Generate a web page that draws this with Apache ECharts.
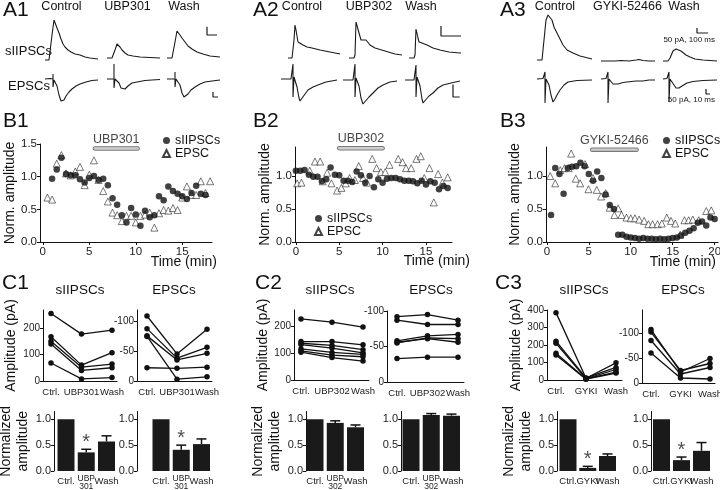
<!DOCTYPE html>
<html><head><meta charset="utf-8">
<script src="https://cdn.jsdelivr.net/npm/echarts@6/dist/echarts.min.js"></script>
<style>html,body{margin:0;padding:0;background:#fff}#c{width:720px;height:490px}</style>
</head><body><div id="c"></div>
<script>
// ---------------- DATA ----------------
// A: example traces, [time (ms), current (pA)]
const a1IpscCtrl = [[0,0],[40,0],[50,6],[70,150],[90,240],[100,228],[120,192],[140,162],[160,126],[180,96],[200,78],[230,60],[260,48],[300,36],[350,30],[400,18],[450,12],[530,6]];
const a1IpscDrug = [[0,0],[50,0],[60,6],[80,48],[100,84],[110,78],[130,66],[150,48],[180,30],[210,18],[260,12],[330,6],[430,3],[530,0]];
const a1IpscWash = [[0,0],[50,0],[60,6],[80,96],[100,162],[110,156],[130,138],[150,120],[180,96],[210,72],[250,54],[300,36],[360,24],[430,12],[530,6]];
const a1EpscCtrl = [[0,0],[10,5],[16,0],[16,50],[16,-80],[18,-10],[20,-10],[24,-70],[28,-160],[32,-220],[34,-230],[38,-210],[42,-170],[48,-130],[54,-100],[62,-70],[70,-50],[82,-30],[94,-15],[106,-10]];
const a1EpscDrug = [[0,0],[14,0],[14,150],[14,-90],[16,0],[20,-10],[24,-40],[28,-90],[32,-110],[36,-100],[42,-70],[50,-40],[60,-30],[76,-15],[90,-10],[106,-5]];
const a1EpscWash = [[0,0],[16,0],[16,70],[16,-80],[18,0],[22,-10],[26,-60],[30,-140],[34,-180],[38,-170],[42,-150],[48,-110],[56,-80],[66,-50],[76,-30],[90,-20],[106,-10]];
const a2IpscCtrl = [[0,0],[20,0],[25,10],[30,90],[35,165],[40,140],[50,80],[60,70],[75,65],[95,55],[120,50],[140,45],[160,40],[185,35],[210,30],[235,25],[260,20]];
const a2IpscDrug = [[0,0],[25,0],[30,15],[35,180],[50,125],[60,90],[70,100],[85,90],[105,65],[130,50],[180,35],[230,20],[265,15]];
const a2IpscWash = [[0,0],[25,0],[30,15],[35,145],[45,100],[50,80],[65,75],[90,65],[120,50],[155,40],[200,30],[255,25],[260,25]];
const a2EpscCtrl = [[0,0],[15,0],[18,4],[18,60],[18,-72],[19.5,8],[21,4],[24,-32],[27,-76],[28.5,-88],[31.5,-80],[36,-60],[40.5,-44],[48,-32],[55.5,-24],[67.5,-12],[84,-4]];
const a2EpscDrug = [[0,0],[15,0],[18,4],[18,64],[18,-68],[19.5,8],[21,4],[24,-24],[27,-72],[30,-96],[33,-88],[39,-68],[45,-52],[52.5,-32],[60,-20],[70.5,-8],[81,-4]];
const a2EpscWash = [[0,0],[13.5,0],[16.5,4],[16.5,60],[16.5,-68],[18,12],[19.5,8],[22.5,-24],[25.5,-76],[27,-92],[30,-84],[36,-64],[42,-52],[49.5,-32],[57,-20],[69,-12],[82.5,-4]];
const a3IpscCtrl = [[0,0],[45,0],[54,20],[72,300],[81,400],[99,450],[117,430],[135,400],[153,330],[180,270],[207,210],[234,150],[270,100],[324,70],[387,40],[495,10]];
const a3IpscDrug = [[0,0],[72,0],[90,10],[126,0],[180,5],[252,0],[315,10],[342,15],[378,5],[432,0],[486,0]];
const a3IpscWash = [[0,0],[45,0],[63,30],[90,100],[108,110],[117,120],[135,110],[162,100],[180,80],[207,60],[243,40],[288,20],[360,10],[486,0]];
const a3EpscCtrl = [[0,0],[15,5],[20,0],[20,70],[20,-240],[22.5,0],[25,-10],[30,-60],[35,-160],[40,-230],[45,-200],[50,-160],[57.5,-110],[67.5,-60],[77.5,-30],[100,-15],[137.5,-10]];
const a3EpscDrug = [[0,0],[12.5,5],[17.5,0],[17.5,70],[17.5,-240],[20,0],[25,-20],[30,-50],[35,-60],[42.5,-50],[55,-35],[65,-30],[87.5,-20],[105,-20],[120,-10],[135,-10]];
const a3EpscWash = [[0,0],[10,5],[15,0],[15,70],[15,-230],[17.5,0],[22.5,-20],[27.5,-60],[32.5,-90],[35,-100],[40,-90],[47.5,-70],[60,-40],[75,-25],[100,-15],[135,-10]];
const condNames = [['Control','UBP301','Wash'],['Control','UBP302','Wash'],['Control','GYKI-52466','Wash']];
const scaleIpsc = [50,100];   // pA, ms
const scaleEpsc = [50,10];    // pA, ms

// B: time courses
const b1IpscT = [1,1.5,2,2.5,3,3.5,4,4.5,5,5.5,6,6.5,7,7.5,8,8.5,9,9.5,10,10.5,11,11.5,12,12.5,13,13.5,14,14.5,15,15.5,16,16.5,17,17.5];
const b1Ipsc  = [0.97,1.11,1.29,1.04,1.02,1.02,0.96,0.91,0.98,1.01,0.95,0.97,0.87,0.67,0.57,0.41,0.30,0.52,0.42,0.25,0.48,0.38,0.41,0.70,0.64,0.85,0.78,0.74,0.70,0.66,0.75,0.86,0.74,0.72];
const b1EpscT = [0.5,1,1.5,2,2.5,3,3.5,4,4.5,5,5.5,6,6.5,7,7.5,8,8.5,9,9.5,10,10.5,11,11.5,12,12.5,13,13.5,14,14.5,15,15.5,16,16.5,17,17.5,18];
const b1Epsc  = [0.68,0.65,1.2,1.33,1.05,1.02,1.08,1.15,0.87,1.03,1.25,0.95,0.78,0.62,0.45,0.41,0.32,0.40,0.40,0.30,0.40,0.42,0.45,0.22,0.44,0.49,0.48,0.52,0.49,0.68,0.85,0.72,0.72,0.93,0.75,0.93];
const b2IpscT = [0,0.5,1,1.5,2,2.5,3,3.5,4,4.5,5,5.5,6,6.5,7,7.5,8,8.5,9,9.5,10,10.5,11,11.5,12,12.5,13,13.5,14,14.5,15,15.5,16,16.5,17,17.5];
const b2Ipsc  = [1.08,1.08,1.09,1.02,0.99,0.99,0.92,0.95,1.13,1.02,1.01,0.93,0.93,0.91,1.07,1.01,0.90,1.0,0.83,0.95,0.90,0.96,0.97,0.97,0.95,0.93,0.93,0.92,0.89,0.93,0.87,0.92,0.90,0.80,0.85,0.82];
const b2EpscT = [0.15,0.64,1.6,2.2,2.8,3.1,3.6,4.1,4.75,5.25,5.75,6.2,6.8,7.25,7.75,8.2,8.8,9.3,9.8,10.3,10.8,11.8,12.3,12.7,13.3,13.9,14.4,14.8,15.4,15.9,16.4,16.9,17.5];
const b2Epsc  = [0.89,0.90,1.08,1.22,1.22,0.92,1.05,0.89,0.78,0.82,0.89,0.97,0.94,1.15,0.97,0.90,1.26,1.12,1.06,1.06,1.17,1.26,1.21,1.12,1.12,1.26,1.30,0.97,1.12,0.60,1.03,0.90,0.98];
const b3IpscT = [0.5,1,1.5,2,2.5,3,3.5,4,4.5,5,5.5,6,6.5,7,7.5,8,8.5,9,9.5,10,10.5,11,11.5,12,12.5,13,13.5,14,14.5,15,15.5,16,16.5,17,17.5,18,18.5,19,19.5,20];
const b3Ipsc  = [0.41,1.12,1.03,0.73,1.12,1.14,1.15,1.20,1.15,1.03,0.93,1.07,0.97,0.72,0.56,0.50,0.11,0.11,0.08,0.07,0.06,0.05,0.06,0.05,0.05,0.04,0.05,0.04,0.05,0.06,0.07,0.10,0.14,0.17,0.21,0.29,0.31,0.25,0.37,0.35];
const b3EpscT = [0.4,1.0,1.6,2.1,2.6,2.9,3.45,3.97,4.56,4.96,5.5,5.95,6.47,7.02,7.5,8.05,8.5,8.9,9.5,10.0,10.5,11.0,11.6,12.1,12.6,13.2,13.7,14.3,14.8,15.3,15.9,16.4,16.9,17.4,18.1,19.0,19.6];
const b3Epsc  = [1.0,0.89,1.09,1.12,1.12,1.34,0.96,0.89,1.18,0.80,0.97,0.79,0.69,0.74,0.52,0.41,0.51,0.41,0.37,0.36,0.36,0.34,0.32,0.27,0.27,0.27,0.28,0.37,0.32,0.28,0.11,0.33,0.33,0.34,0.33,0.47,0.48];
const drugNames = ['UBP301','UBP302','GYKI-52466'];
const drugWindows = [[5.6,10.2],[5.0,10.0],[5.4,10.7]];   // min

// C: individual cells (pA)
const c1Cats = ['Ctrl.','UBP301','Wash'];
const c2Cats = ['Ctrl.','UBP302','Wash'];
const c3Cats = ['Ctrl.','GYKI','Wash'];
const c1Ipsc = [[255,177,192],[167,60,107],[150,52,64],[140,40,50],[68,8,13]];
const c1Epsc = [[-108,-45,-86],[-87,-38,-56],[-75,-35,-46],[-74,-3,-7],[-22,-21,-23]];
const c2Ipsc = [[226,214,196],[142,142,130],[136,128,112],[131,118,100],[115,102,95],[108,92,86],[103,83,70]];
const c2Epsc = [[-92,-95,-87],[-87,-81,-81],[-58,-65,-67],[-56,-61,-56],[-55,-62,-61],[-33,-35,-35]];
const c3Ipsc = [[385,10,98],[222,12,72],[210,8,60],[153,6,45],[143,5,40]];
const c3Epsc = [[-107,-22,-49],[-102,-25,-39],[-85,-18,-31],[-60,-10,-8]];
// C: normalized means and SEM
const barCats1 = ['Ctrl.','UBP\n301','Wash'];
const barCats2 = ['Ctrl.','UBP\n302','Wash'];
const barCats3 = ['Ctrl.','GYKI','Wash'];
const c1IpscMean = [1.0,0.36,0.57], c1IpscSem = [0,0.06,0.11], c1IpscSig = [0,1,0];
const c1EpscMean = [1.0,0.41,0.52], c1EpscSem = [0,0.09,0.10], c1EpscSig = [0,1,0];
const c2IpscMean = [1.0,0.93,0.845], c2IpscSem = [0,0.04,0.045], c2IpscSig = [0,0,0];
const c2EpscMean = [1.0,1.08,1.07], c2EpscSem = [0,0.03,0.03], c2EpscSig = [0,0,0];
const c3IpscMean = [1.0,0.06,0.29], c3IpscSem = [0,0.03,0.04], c3IpscSig = [0,1,0];
const c3EpscMean = [1.0,0.21,0.39], c3EpscSem = [0,0.06,0.16], c3EpscSig = [0,1,0];

// ---------------- BUILD ----------------
const FONT = "'Liberation Sans', Arial, Helvetica, sans-serif";
const INK = '#111';
const grids=[], xAxes=[], yAxes=[], series=[], legends=[], graphics=[];
function addGrid(g, x, y){
  grids.push(Object.assign({containLabel:false, outerBoundsMode:'none'}, g));
  const i = grids.length-1;
  xAxes.push(Object.assign({gridIndex:i, splitLine:{show:false}}, x));
  yAxes.push(Object.assign({gridIndex:i, splitLine:{show:false}}, y));
  return i;
}
const aLine = {show:true, onZero:false, lineStyle:{color:INK, width:1}};
const aTick = {show:true, length:3, inside:false, lineStyle:{color:INK, width:1}};
const aLab = {color:'#222', fontSize:11.5, fontFamily:FONT, margin:3, hideOverlap:false, showMinLabel:true, showMaxLabel:true};

// A traces
function trace(data, c, s, kind){
  const up = kind==='ipsc'?50:25, down = kind==='ipsc'?10:25;
  const i = addGrid({left:c.left, top:c.base-up, width:c.width, height:up+down},
    {type:'value', show:false, min:0, max:c.width*s.ms},
    {type:'value', show:false, min:-down*s.pa, max:up*s.pa});
  series.push({type:'line', xAxisIndex:i, yAxisIndex:i, data:data, symbol:'none', clip:false, silent:true,
    lineStyle:{color:'#1a1a1a', width:1.1}});
  return i;
}
function scaleBar(i, anchor, size){
  series.push({type:'line', xAxisIndex:i, yAxisIndex:i, symbol:'none', clip:false, silent:true,
    data:[[anchor[0],anchor[1]+size[0]],[anchor[0],anchor[1]],[anchor[0]+size[1],anchor[1]]],
    lineStyle:{color:'#1a1a1a', width:1.2}});
}
const aPanels = [
  {ipsc:[a1IpscCtrl,a1IpscDrug,a1IpscWash], epsc:[a1EpscCtrl,a1EpscDrug,a1EpscWash],
   si:{ms:10,pa:6}, se:{ms:2,pa:10},
   ci:[{left:45,base:60,width:53},{left:107,base:58,width:53},{left:167,base:58,width:53}],
   ce:[{left:45,base:79,width:53},{left:107,base:79,width:53},{left:167,base:79,width:53}],
   bi:[400,138], be:[92,-180]},
  {ipsc:[a2IpscCtrl,a2IpscDrug,a2IpscWash], epsc:[a2EpscCtrl,a2EpscDrug,a2EpscWash],
   si:{ms:5,pa:5}, se:{ms:1.5,pa:4},
   ci:[{left:288,base:58,width:52},{left:349,base:58,width:53},{left:409,base:58,width:52}],
   ce:[{left:281,base:79,width:56},{left:343,base:80,width:54},{left:405,base:80,width:55}],
   bi:[160,110], be:[72,-68]},
  {ipsc:[a3IpscCtrl,a3IpscDrug,a3IpscWash], epsc:[a3EpscCtrl,a3EpscDrug,a3EpscWash],
   si:{ms:9,pa:10}, se:{ms:2.5,pa:10},
   ci:[{left:537,base:60,width:55},{left:601,base:61,width:54},{left:663,base:61,width:54}],
   ce:[{left:537,base:79,width:55},{left:601,base:79,width:54},{left:663,base:79,width:54}],
   bi:[306,280], be:[107.5,-150]}
];
aPanels.forEach(p=>{
  let gi, ge;
  p.ipsc.forEach((d,k)=>{ gi = trace(d, p.ci[k], p.si, 'ipsc'); });
  p.epsc.forEach((d,k)=>{ ge = trace(d, p.ce[k], p.se, 'epsc'); });
  scaleBar(gi, p.bi, scaleIpsc);
  scaleBar(ge, p.be, scaleEpsc);
});

// B time courses
function bPanel(p){
  const yt = [0,0.5,1,1.5].filter(v=>v<=p.ymax);
  const i = addGrid({left:p.left, top:p.top, width:p.width, height:p.height},
    {type:'value', min:p.xmin, max:p.xmax, axisLine:aLine,
     axisTick:Object.assign({customValues:p.xt}, aTick),
     axisLabel:Object.assign({customValues:p.xt}, aLab, {margin:4})},
    {type:'value', min:0, max:p.ymax, axisLine:aLine,
     axisTick:Object.assign({customValues:yt}, aTick),
     axisLabel:Object.assign({customValues:yt, formatter:v=>Number(v).toFixed(1)}, aLab),
     name:'Norm. amplitude', nameLocation:'middle', nameGap:p.yGap,
     nameTextStyle:{fontSize:14, fontFamily:FONT, color:INK}});
  series.push({type:'scatter', name:'EPSC', xAxisIndex:i, yAxisIndex:i,
    data:p.et.map((t,k)=>[t,p.ev[k]]), symbol:'triangle', symbolSize:7,
    itemStyle:{color:'#fff', borderColor:INK, borderWidth:0.7}});
  series.push({type:'scatter', name:'sIIPSCs', xAxisIndex:i, yAxisIndex:i,
    data:p.it.map((t,k)=>[t,p.iv[k]]), symbol:'circle', symbolSize:6.5,
    itemStyle:{color:INK}});
  const w = drugWindows[p.k];
  series.push({type:'line', xAxisIndex:i, yAxisIndex:i, data:[[w[0],p.barY],[w[1],p.barY]], symbol:'none', silent:true, clip:false,
    lineStyle:{color:'#7a7a7a', width:4.5, cap:'round'}});
  series.push({type:'line', xAxisIndex:i, yAxisIndex:i, data:[[w[0],p.barY],[w[1],p.barY]], symbol:'none', silent:true, clip:false,
    lineStyle:{color:'#cfcfcf', width:2.4, cap:'round'}});
  series.push({type:'scatter', xAxisIndex:i, yAxisIndex:i, data:[[(w[0]+w[1])/2, p.barY]], symbolSize:0, silent:true, clip:false,
    label:{show:true, position:'top', distance:3, formatter:drugNames[p.k], fontSize:12.5, fontFamily:FONT, color:INK}});
  legends.push({left:p.legL, top:p.legT, padding:0, orient:'vertical', itemWidth:7, itemHeight:7, itemGap:0,
    selectedMode:false, data:['sIIPSCs','EPSC'], textStyle:{fontSize:12.5, fontFamily:FONT, color:INK}});
}
bPanel({k:0, left:40, top:144, width:172, height:98, xmin:-0.3, xmax:18.2, ymax:1.5, xt:[0,5,10,15], yGap:20,
  it:b1IpscT, iv:b1Ipsc, et:b1EpscT, ev:b1Epsc, barY:1.43, legL:162, legT:134});
bPanel({k:1, left:295, top:147, width:157, height:95, xmin:-0.1, xmax:18, ymax:1.44, xt:[0,5,10,15], yGap:22,
  it:b2IpscT, iv:b2Ipsc, et:b2EpscT, ev:b2Epsc, barY:1.42, legL:314, legT:212});
bPanel({k:2, left:546, top:147, width:172, height:95, xmin:-0.1, xmax:20.4, ymax:1.44, xt:[0,5,10,15,20], yGap:24,
  it:b3IpscT, iv:b3Ipsc, et:b3EpscT, ev:b3Epsc, barY:1.40, legL:662, legT:134});

// C paired plots: category x axis, y axis shifted onto the drawn axis position
function cLine(p){
  const band = (p.pts[2]-p.pts[0])/2, left = p.pts[0]-band/2;
  const i = addGrid({left:left, top:p.top, width:band*3, height:p.height},
    {type:'category', data:p.cats, boundaryGap:true, axisLine:{show:false}, axisTick:{show:false},
     axisLabel:{interval:0, hideOverlap:false, color:'#222', fontSize:9.5, fontFamily:FONT, margin:6}},
    {type:'value', min:p.ymin, max:p.ymax, inverse:!!p.inverse, offset:left-p.axisX, axisLine:aLine,
     axisTick:Object.assign({customValues:p.yt}, aTick),
     axisLabel:Object.assign({customValues:p.yt}, aLab, {fontSize:10}),
     name:p.yname||'', nameLocation:'middle', nameGap:p.yGap||20,
     nameTextStyle:{fontSize:14, fontFamily:FONT, color:INK}});
  // baseline (x axis line) starting at the y axis
  addGrid({left:p.axisX, top:p.top, width:p.lineEnd-p.axisX, height:p.height},
    {type:'value', min:0, max:1, axisLine:aLine, axisTick:{show:false}, axisLabel:{show:false}},
    {type:'value', min:0, max:1, show:false});
  p.lines.forEach(l=>{
    series.push({type:'line', xAxisIndex:i, yAxisIndex:i, data:l, symbol:'circle', symbolSize:5.5,
      itemStyle:{color:INK}, lineStyle:{color:INK, width:1.3}, silent:true, clip:false});
  });
}
cLine({pts:[51,82,112], axisX:43, lineEnd:117, top:310, height:71, ymin:0, ymax:268, yt:[0,100,200], cats:c1Cats, lines:c1Ipsc, yname:'Amplitude (pA)', yGap:25});
cLine({pts:[147,177,207], axisX:137, lineEnd:212, top:310, height:71, ymin:-118, ymax:0, inverse:true, yt:[-100,-50,0], cats:c1Cats, lines:c1Epsc});
cLine({pts:[301,332,363], axisX:294, lineEnd:369, top:310, height:70, ymin:0, ymax:259, yt:[0,100,200], cats:c2Cats, lines:c2Ipsc, yname:'Amplitude (pA)', yGap:24});
cLine({pts:[397,428,458], axisX:387, lineEnd:464, top:311, height:71, ymin:-100, ymax:0, inverse:true, yt:[-100,-50,0], cats:c2Cats, lines:c2Epsc});
cLine({pts:[556,585,616], axisX:547, lineEnd:622, top:310, height:70, ymin:0, ymax:400, yt:[0,100,200,300,400], cats:c3Cats, lines:c3Ipsc, yname:'Amplitude (pA)', yGap:24});
cLine({pts:[651,680,710], axisX:642, lineEnd:715, top:310, height:73, ymin:-146, ymax:0, inverse:true, yt:[-100,-50,0], cats:c3Cats, lines:c3Epsc});

// C normalized bars
function cBar(p){
  const band = (p.pts[2]-p.pts[0])/2, left = p.pts[0]-band/2;
  const i = addGrid({left:left, top:411.5, width:band*3, height:59.5},
    {type:'category', data:p.cats, boundaryGap:true, axisLine:{show:false}, axisTick:{show:false},
     axisLabel:{interval:0, hideOverlap:false,
       formatter:c=>c.indexOf('\n')>=0 ? c.split('\n').map(s=>'{s|'+s+'}').join('\n') : c,
       color:'#222', fontSize:9.5, lineHeight:12, fontFamily:FONT, margin:4,
       rich:{s:{fontSize:8.5, lineHeight:7.5, fontFamily:FONT, color:'#222'}}}},
    {type:'value', min:0, max:1.15, offset:left-p.axisX, axisLine:aLine,
     axisTick:Object.assign({customValues:[0,0.5,1]}, aTick),
     axisLabel:Object.assign({customValues:[0,0.5,1], formatter:v=>Number(v).toFixed(1)}, aLab, {fontSize:11}),
     name:p.yname||'', nameLocation:'middle', nameGap:p.yGap||20,
     nameTextStyle:{fontSize:14, lineHeight:17, fontFamily:FONT, color:INK}});
  series.push({type:'bar', xAxisIndex:i, yAxisIndex:i, data:p.mean, barWidth:17,
    itemStyle:{color:'#1a1a1a'}, silent:true});
  series.push({type:'custom', xAxisIndex:i, yAxisIndex:i, silent:true,
    data:p.mean.map((v,k)=>[k,v,v+p.sem[k]]),
    renderItem:(params, api)=>{
      const x=api.value(0), lo=api.coord([x,api.value(1)]), hi=api.coord([x,api.value(2)]);
      if (lo[1]-hi[1] < 0.5) return null;
      return {type:'group', children:[
        {type:'line', shape:{x1:lo[0],y1:lo[1],x2:hi[0],y2:hi[1]}, style:{stroke:'#111', lineWidth:1.5}},
        {type:'line', shape:{x1:hi[0]-5,y1:hi[1],x2:hi[0]+5,y2:hi[1]}, style:{stroke:'#111', lineWidth:1.5}}]};
    }});
  const sig = [];
  p.sig.forEach((s,k)=>{ if (s) sig.push([k, p.mean[k]+p.sem[k]]); });
  if (sig.length) series.push({type:'scatter', xAxisIndex:i, yAxisIndex:i, data:sig, symbolSize:0, silent:true, clip:false,
    label:{show:true, position:'top', distance:-3, formatter:'*', fontSize:20, fontFamily:FONT, color:'#222'}});
}
cBar({pts:[66,86,106.5], axisX:54, cats:barCats1, mean:c1IpscMean, sem:c1IpscSem, sig:c1IpscSig, yname:'Normalized\namplitude', yGap:21});
cBar({pts:[161,181.5,201.5], axisX:137, cats:barCats1, mean:c1EpscMean, sem:c1EpscSem, sig:c1EpscSig});
cBar({pts:[315,335,355.5], axisX:306, cats:barCats2, mean:c2IpscMean, sem:c2IpscSem, sig:c2IpscSig, yname:'Normalized\namplitude', yGap:22});
cBar({pts:[411,431.5,451.5], axisX:401, cats:barCats2, mean:c2EpscMean, sem:c2EpscSem, sig:c2EpscSig});
cBar({pts:[568,587,607.5], axisX:557, cats:barCats3, mean:c3IpscMean, sem:c3IpscSem, sig:c3IpscSig, yname:'Normalized\namplitude', yGap:21});
cBar({pts:[661.5,681,701.5], axisX:651, cats:barCats3, mean:c3EpscMean, sem:c3EpscSem, sig:c3EpscSig});

// texts
function txt(text, x, y, size, align, extra){
  graphics.push({type:'text', x:x, y:y, silent:true, style:Object.assign({text:text, fontSize:size, fontFamily:FONT, fill:INK,
    align:align||'left', textAlign:align||'left', verticalAlign:'middle', textVerticalAlign:'middle'}, extra||{})});
}
[['A1',3,10],['A2',253,10],['A3',500,10],['B1',3,121],['B2',253,121],['B3',500,121],['C1',2,283],['C2',255,283],['C3',495,283]]
  .forEach(t=>txt(t[0], t[1], t[2], 21));
const condX = [[61.5,127.5,184],[302,369,421],[555,627.5,684]];
condNames.forEach((names,p)=>names.forEach((n,k)=>txt(n, condX[p][k], 7, 12.5, 'center')));
txt('sIIPSCs', 5, 51, 13);
txt('EPSCs', 8, 86, 13);
txt('50 pA, 100 ms', 715, 40, 8, 'right');
txt('50 pA, 10 ms', 715, 100, 8, 'right');
[['Time (min)',217,262],['Time (min)',470,261],['Time (min)',716,262]].forEach(t=>txt(t[0], t[1], t[2], 14, 'right'));
[['sIIPSCs',80],['EPSCs',174],['sIIPSCs',330],['EPSCs',431],['sIIPSCs',584],['EPSCs',683]]
  .forEach(t=>txt(t[0], t[1], 290, 13.5, 'center'));

const chart = echarts.init(document.getElementById('c'), null, {renderer:'canvas'});
chart.setOption({animation:false, backgroundColor:'#fff', textStyle:{fontFamily:FONT},
  grid:grids, xAxis:xAxes, yAxis:yAxes, series:series, legend:legends, graphic:{elements:graphics}});
</script></body></html>
